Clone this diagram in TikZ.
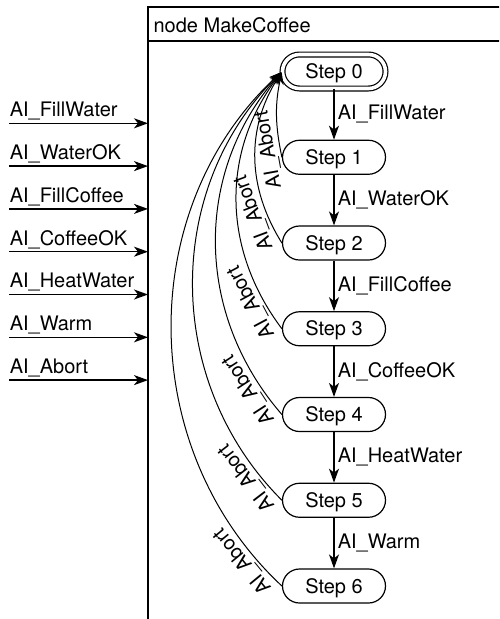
\documentclass[tikz,border=0pt]{standalone}
\usepackage{fontspec}
\setsansfont{TeX Gyre Heros}
\usetikzlibrary{arrows.meta}

\begin{document}
\begin{tikzpicture}[
        x=1pt, y=1pt,
        line width=1.2pt,
        stepbox/.style={draw, rounded corners=17pt, minimum width=103pt, minimum height=34pt, inner sep=0pt, text height=14pt, text depth=0pt},
        initbox/.style={stepbox, double, double distance=3.6pt},
        arrow/.style={-{Stealth[length=14pt, width=10pt, inset=4pt]}, line width=1.5pt},
        abortarrow/.style={-{Stealth[length=12pt, width=9pt, inset=4pt]}, line width=1pt, shorten >=1pt},
        abortlabel/.style={sloped, allow upside down, above, inner sep=2pt},
        font=\sffamily\fontsize{20}{24}\selectfont
    ]

    \useasboundingbox (0,0) rectangle (499,-619);
    \clip (0,0) rectangle (499,-619);

    % ==========================================
    % NODE FRAME: MakeCoffee
    % ==========================================
    \coordinate (boxnw) at (148,-7);
    \draw (148,-640) |- (520,-7);
    \draw (148,-41) -- (520,-41);
    \node[anchor=base west, inner sep=0pt] (title) at (153,-32) {node MakeCoffee};

    % ==========================================
    % INPUTS (left of the frame)
    % ==========================================
    \coordinate (in1) at (9,-123.3);
    \coordinate (in2) at (9,-166.1);
    \coordinate (in3) at (9,-208.9);
    \coordinate (in4) at (9,-251.7);
    \coordinate (in5) at (9,-294.5);
    \coordinate (in6) at (9,-337.3);
    \coordinate (in7) at (9,-380.1);

    \draw[arrow] (in1) -- (in1 -| boxnw) node[pos=0, anchor=base west, yshift=6.6pt, inner sep=0pt] (lbl1) {AI\_FillWater};
    \draw[arrow] (in2) -- (in2 -| boxnw) node[pos=0, anchor=base west, yshift=6.6pt, inner sep=0pt] (lbl2) {AI\_WaterOK};
    \draw[arrow] (in3) -- (in3 -| boxnw) node[pos=0, anchor=base west, yshift=6.6pt, inner sep=0pt] (lbl3) {AI\_FillCoffee};
    \draw[arrow] (in4) -- (in4 -| boxnw) node[pos=0, anchor=base west, yshift=6.6pt, inner sep=0pt] (lbl4) {AI\_CoffeeOK};
    \draw[arrow] (in5) -- (in5 -| boxnw) node[pos=0, anchor=base west, yshift=6.6pt, inner sep=0pt] (lbl5) {AI\_HeatWater};
    \draw[arrow] (in6) -- (in6 -| boxnw) node[pos=0, anchor=base west, yshift=6.6pt, inner sep=0pt] (lbl6) {AI\_Warm};
    \draw[arrow] (in7) -- (in7 -| boxnw) node[pos=0, anchor=base west, yshift=6.6pt, inner sep=0pt] (lbl7) {AI\_Abort};

    % ==========================================
    % STEPS
    % ==========================================
    \node[initbox] (s0) at (334,-71.5) {Step 0};
    \node[stepbox] (s1) at (334,-157.25) {Step 1};
    \node[stepbox] (s2) at (334,-243) {Step 2};
    \node[stepbox] (s3) at (334,-328.75) {Step 3};
    \node[stepbox] (s4) at (334,-414.5) {Step 4};
    \node[stepbox] (s5) at (334,-500.25) {Step 5};
    \node[stepbox] (s6) at (334,-586) {Step 6};

    % transitions
    \draw[arrow] (s0) -- (s1) node[midway, right=3pt, inner sep=0pt] {AI\_FillWater};
    \draw[arrow] (s1) -- (s2) node[midway, right=3pt, inner sep=0pt] {AI\_WaterOK};
    \draw[arrow] (s2) -- (s3) node[midway, right=3pt, inner sep=0pt] {AI\_FillCoffee};
    \draw[arrow] (s3) -- (s4) node[midway, right=3pt, inner sep=0pt] {AI\_CoffeeOK};
    \draw[arrow] (s4) -- (s5) node[midway, right=3pt, inner sep=0pt] {AI\_HeatWater};
    \draw[arrow] (s5) -- (s6) node[midway, right=3pt, inner sep=0pt] {AI\_Warm};

    % abort: back to Step 0
    \draw[abortarrow] (s1.west) to[bend left=12] node[abortlabel, pos=0.1] {AI\_Abort} (s0.west);
    \draw[abortarrow] (s2.west) to[bend left=32] node[abortlabel, pos=0.2] {AI\_Abort} (s0.west);
    \draw[abortarrow] (s3.west) to[bend left=37] node[abortlabel, pos=0.13] {AI\_Abort} (s0.west);
    \draw[abortarrow] (s4.west) to[bend left=41] node[abortlabel, pos=0.1] {AI\_Abort} (s0.west);
    \draw[abortarrow] (s5.west) to[bend left=45] node[abortlabel, pos=0.08] {AI\_Abort} (s0.west);
    \draw[abortarrow] (s6.west) to[bend left=47] node[abortlabel, pos=0.075] {AI\_Abort} (s0.west);

\end{tikzpicture}
\end{document}
